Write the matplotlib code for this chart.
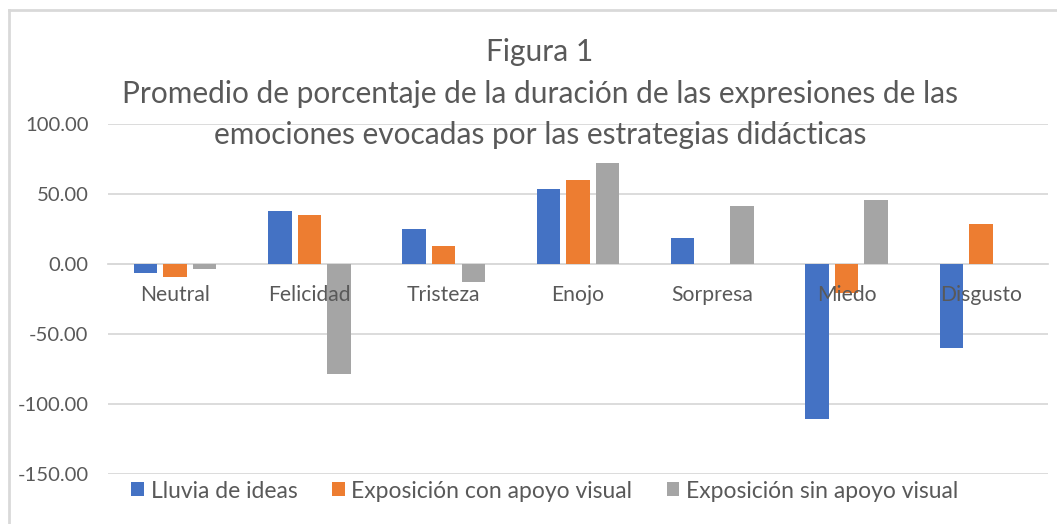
import matplotlib.pyplot as plt
import numpy as np
from matplotlib.lines import Line2D

categories = ["Neutral", "Felicidad", "Tristeza", "Enojo", "Sorpresa", "Miedo", "Disgusto"]
lluvia = [-6.5, 37.9, 25.0, 53.5, 18.3, -110.5, -60.1]
con_apoyo = [-9.3, 35.0, 12.9, 60.0, 0.0, -20.9, 28.3]
sin_apoyo = [-3.8, -78.4, -12.9, 72.0, 41.5, 46.0, 0.0]
series_names = ["Lluvia de ideas", "Exposición con apoyo visual", "Exposición sin apoyo visual"]
yticks = [100, 50, 0, -50, -100, -150]
title_lines = ["Figura 1",
               "Promedio de porcentaje de la duración de las expresiones de las",
               "emociones evocadas por las estrategias didácticas"]

text_color = "#595959"
grid_color = "#D9D9D9"
plt.rcParams["font.family"] = ["Lato", "DejaVu Sans"]

fig = plt.figure(figsize=(10.57, 5.24), dpi=100)
ax = fig.add_axes([108 / 1057, 1 - 474 / 524, 940 / 1057, 350 / 524])

x = np.arange(len(categories))
bar_width = 0.175
offset = 0.22
ax.bar(x - offset, lluvia, bar_width, color="#4472C4", label=series_names[0], zorder=3)
ax.bar(x, con_apoyo, bar_width, color="#ED7D31", label=series_names[1], zorder=3)
ax.bar(x + offset, sin_apoyo, bar_width, color="#A5A5A5", label=series_names[2], zorder=3)

ax.set_xlim(-0.5, len(categories) - 0.5)
ax.set_ylim(-150, 100)
ax.set_yticks(yticks)
ax.set_yticklabels([f"{v:.2f}" for v in yticks])
ax.yaxis.grid(True, color=grid_color, linewidth=1.3)
ax.yaxis.set_zorder(0.5)
ax.xaxis.set_zorder(5)  # category names drawn over the bars, like Excel

for side in ["top", "right", "left"]:
    ax.spines[side].set_visible(False)
ax.spines["bottom"].set_position(("data", 0))
ax.spines["bottom"].set_color(grid_color)
ax.spines["bottom"].set_linewidth(1.3)
ax.spines["bottom"].set_zorder(1)

ax.set_xticks(x)
ax.set_xticklabels(categories)
ax.tick_params(axis="x", length=0, pad=15, labelsize=15.2, labelcolor=text_color)
ax.tick_params(axis="y", length=0, pad=14, labelsize=14.6, labelcolor=text_color)

for y_px, line in zip([52, 94, 135], title_lines):
    fig.text(540 / 1057, 1 - y_px / 524, line, ha="center", va="center",
             fontsize=21.5, color=text_color)

fig.legend(loc="center", bbox_to_anchor=(545 / 1057, 1 - 491 / 524), ncol=3, frameon=False,
           fontsize=16.5, labelcolor=text_color, handlelength=0.55, handleheight=0.55,
           handletextpad=0.3, columnspacing=1.5)

# chart frame (top and left edges visible in the crop)
fig.add_artist(Line2D([9 / 1057, 1], [1 - 10 / 524, 1 - 10 / 524], color=grid_color, linewidth=2))
fig.add_artist(Line2D([9 / 1057, 9 / 1057], [0, 1 - 10 / 524], color=grid_color, linewidth=2))

fig.savefig("out.png", dpi=100)
